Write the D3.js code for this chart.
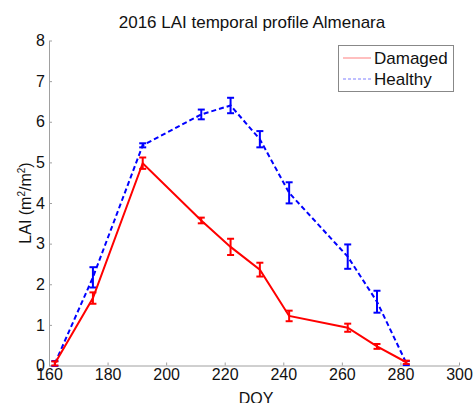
<!DOCTYPE html>
<html>
<head>
<meta charset="utf-8">
<script src="https://cdn.jsdelivr.net/npm/d3@7"></script>
<style>
  html, body { margin: 0; padding: 0; background: #fff; }
  svg { display: block; font-family: "Liberation Sans", Arial, Helvetica, sans-serif; }
</style>
</head>
<body>
<svg id="chart" width="473" height="403"></svg>
<script>
// LAI temporal profile, Almenara 2016
const doy = [162, 175, 192, 212, 222, 232, 242, 262, 272, 282];
const damaged = [0.05, 1.66, 4.98, 3.57, 2.92, 2.36, 1.22, 0.93, 0.47, 0.08];
const damagedErr = [0.05, 0.14, 0.14, 0.07, 0.20, 0.17, 0.13, 0.10, 0.06, 0.04];
const healthy = [0.05, 2.17, 5.42, 6.18, 6.40, 5.57, 4.25, 2.68, 1.57, 0.06];
const healthyErr = [0.06, 0.25, 0.05, 0.12, 0.19, 0.20, 0.26, 0.30, 0.27, 0.05];
const xTicks = [160, 180, 200, 220, 240, 260, 280, 300];
const yTicks = [0, 1, 2, 3, 4, 5, 6, 7, 8];

const svg = d3.select("#chart");
const plotLeft = 49, plotRight = 459, plotTop = 40.5, plotBottom = 365.5;

const x = d3.scaleLinear().domain([160, 300]).range([plotLeft, plotRight]);
const y = d3.scaleLinear().domain([0, 8]).range([plotBottom, plotTop]);

const axisColor = "#a0a0a0";

// x axis (ticks point inward)
const gx = svg.append("g").attr("transform", `translate(0,${plotBottom})`)
  .call(d3.axisBottom(x).tickValues(xTicks).tickSizeInner(-3).tickSizeOuter(0).tickPadding(6));
gx.select(".domain").attr("stroke", axisColor);
gx.selectAll(".tick line").attr("stroke", axisColor);
gx.selectAll(".tick text").attr("font-size", 16).attr("fill", "#111")
  .attr("dy", "0.71em").attr("y", 3);

// y axis
const gy = svg.append("g").attr("transform", `translate(${plotLeft},0)`)
  .call(d3.axisLeft(y).tickValues(yTicks).tickSizeInner(-3).tickSizeOuter(0).tickPadding(4));
gy.select(".domain").attr("stroke", axisColor);
gy.selectAll(".tick line").attr("stroke", axisColor);
gy.selectAll(".tick text").attr("font-size", 16).attr("fill", "#111").attr("x", -4);

// title and axis labels
svg.append("text").attr("x", 252).attr("y", 28).attr("text-anchor", "middle")
  .attr("font-size", 17).attr("fill", "#111").text("2016 LAI temporal profile Almenara");

svg.append("text").attr("x", 256).attr("y", 404).attr("text-anchor", "middle")
  .attr("font-size", 16).attr("fill", "#111").text("DOY");

const yl = svg.append("text")
  .attr("transform", `translate(31,${(plotTop + plotBottom) / 2}) rotate(-90)`)
  .attr("text-anchor", "middle").attr("font-size", 16).attr("fill", "#111");
yl.append("tspan").text("LAI (m");
yl.append("tspan").attr("font-size", 10).attr("dy", -6).text("2");
yl.append("tspan").attr("dy", 6).text("/m");
yl.append("tspan").attr("font-size", 10).attr("dy", -6).text("2");
yl.append("tspan").attr("dy", 6).text(")");

// series with error bars
function drawSeries(vals, errs, color, dash) {
  const pts = doy.map((d, i) => ({ d, v: vals[i], e: errs[i] }));
  const line = d3.line().x(p => x(p.d)).y(p => y(p.v));
  svg.append("path").datum(pts).attr("d", line)
    .attr("fill", "none").attr("stroke", color).attr("stroke-width", 2)
    .attr("stroke-dasharray", dash);
  const g = svg.append("g").attr("stroke", color).attr("stroke-width", 2).attr("fill", "none");
  const cap = 3.5;
  pts.forEach(p => {
    const cx = x(p.d), y1 = y(p.v - p.e), y2 = y(p.v + p.e);
    g.append("line").attr("x1", cx).attr("x2", cx).attr("y1", y1).attr("y2", y2);
    g.append("line").attr("x1", cx - cap).attr("x2", cx + cap).attr("y1", y1).attr("y2", y1);
    g.append("line").attr("x1", cx - cap).attr("x2", cx + cap).attr("y1", y2).attr("y2", y2);
  });
}
drawSeries(healthy, healthyErr, "#0000ff", "5,3");
drawSeries(damaged, damagedErr, "#ff0000", null);

// legend
const lg = svg.append("g");
lg.append("rect").attr("x", 338.5).attr("y", 45.5).attr("width", 115).attr("height", 46)
  .attr("fill", "#fff").attr("stroke", "#888").attr("stroke-width", 1);
const legendItems = [
  { name: "Damaged", color: "#ff0000", dash: null, yy: 58 },
  { name: "Healthy", color: "#0000ff", dash: "3,2", yy: 79 }
];
legendItems.forEach(it => {
  lg.append("line").attr("x1", 343).attr("x2", 371).attr("y1", it.yy).attr("y2", it.yy)
    .attr("stroke", it.color).attr("stroke-width", 1).attr("stroke-opacity", 0.5)
    .attr("stroke-dasharray", it.dash);
  lg.append("text").attr("x", 374).attr("y", it.yy + 6).attr("font-size", 17)
    .attr("fill", "#111").text(it.name);
});
</script>
</body>
</html>
